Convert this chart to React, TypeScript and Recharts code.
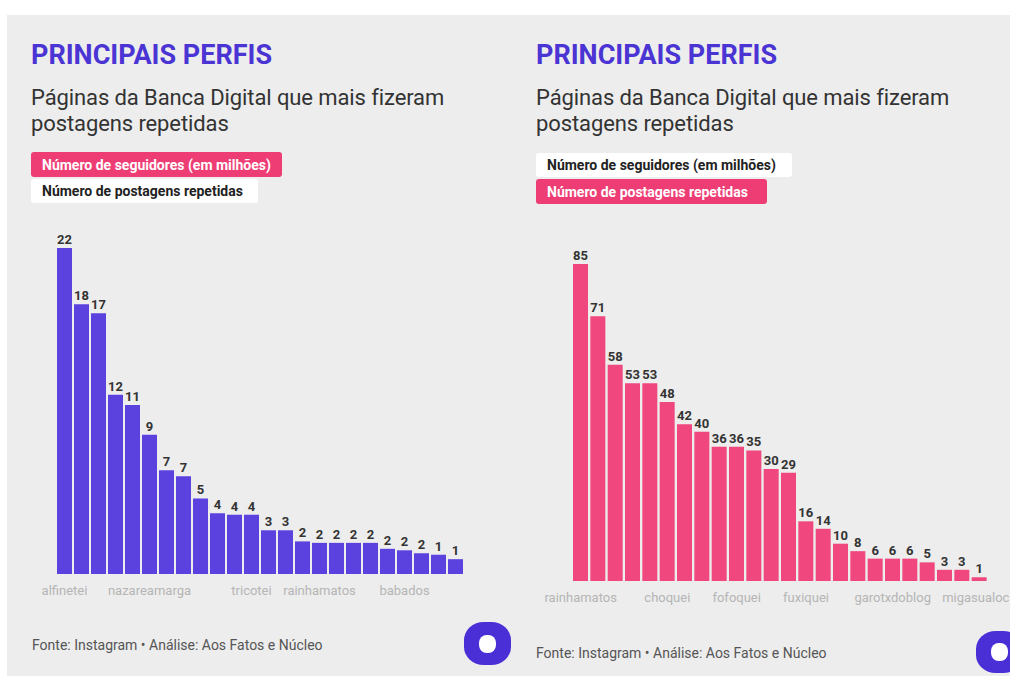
import React from "react";
import { BarChart, Bar, XAxis, YAxis, LabelList } from "recharts";

const leftNames = [
  "alfinetei", "", "", "", "", "nazareamarga", "", "", "", "", "", "tricotei",
  "", "", "", "rainhamatos", "", "", "", "", "babados", "", "", "",
];
const leftFollowers = [
  22, 18.2, 17.6, 12.1, 11.4, 9.4, 7.0, 6.6, 5.1, 4.1, 4.0, 4.0,
  2.95, 2.95, 2.2, 2.1, 2.1, 2.1, 2.1, 1.7, 1.6, 1.4, 1.3, 1.0,
];
const leftLabels = [
  22, 18, 17, 12, 11, 9, 7, 7, 5, 4, 4, 4, 3, 3, 2, 2, 2, 2, 2, 2, 2, 2, 1, 1,
];

// right panel: repeated posts
const rightNames = [
  "rainhamatos", "", "", "", "", "choquei", "", "", "", "fofoquei", "", "", "",
  "fuxiquei", "", "", "", "", "garotxdoblog", "", "", "", "", "migasualoca",
];
const rightPosts = [
  85, 71, 58, 53, 53, 48, 42, 40, 36, 36, 35, 30, 29, 16, 14, 10, 8, 6, 6, 6, 5, 3, 3, 1,
];

const leftData = leftFollowers.map((v, i) => ({ idx: i, value: v, label: leftLabels[i] }));
const rightData = rightPosts.map((v, i) => ({ idx: i, value: v, label: v }));

const PURPLE = "#5b41dd";
const PINK = "#ef477e";
const TITLE = "#4b34d4";
const FONT = "Roboto, 'Noto Sans', sans-serif";

const abs = (left: number, top: number): React.CSSProperties => ({
  position: "absolute",
  left,
  top,
});

function Header({ x, pinkFirst }: { x: number; pinkFirst: boolean }) {
  const box = (text: string, pink: boolean, top: number, width: number, h: number) => (
    <div
      style={{
        ...abs(x, top),
        width,
        height: h,
        background: pink ? "#ee3d75" : "#ffffff",
        color: pink ? "#ffffff" : "#222222",
        borderRadius: 3,
        fontWeight: 700,
        fontSize: 14,
        display: "flex",
        alignItems: "center",
        paddingLeft: 11,
        boxSizing: "border-box",
      }}
    >
      {text}
    </div>
  );
  return (
    <>
      <div
        style={{
          ...abs(x, 42),
          fontSize: 27,
          lineHeight: "27px",
          fontWeight: 700,
          color: TITLE,
        }}
      >
        PRINCIPAIS PERFIS
      </div>
      <div
        style={{
          ...abs(x, 85),
          fontSize: 22,
          lineHeight: "26px",
          color: "#333333",
          width: 470,
          letterSpacing: -0.1,
        }}
      >
        Páginas da Banca Digital que mais fizeram
        <br />
        postagens repetidas
      </div>
      {pinkFirst ? (
        <>
          {box("Número de seguidores (em milhões)", true, 152, 251, 25)}
          {box("Número de postagens repetidas", false, 179, 227, 24)}
        </>
      ) : (
        <>
          {box("Número de seguidores (em milhões)", false, 153, 256, 24)}
          {box("Número de postagens repetidas", true, 179, 231, 25)}
        </>
      )}
    </>
  );
}

function Footer({ x, y }: { x: number; y: number }) {
  return (
    <div
      style={{
        ...abs(x, y - 9),
        fontSize: 14,
        lineHeight: "18px",
        color: "#555555",
      }}
    >
      Fonte: Instagram • Análise: Aos Fatos e Núcleo
    </div>
  );
}

function Logo({ x, y, w, h }: { x: number; y: number; w: number; h: number }) {
  return (
    <div
      style={{
        ...abs(x, y),
        width: w,
        height: h,
        background: "#4a2ed6",
        borderRadius: "42%",
      }}
    >
      <div
        style={{
          position: "absolute",
          left: (w - 17) / 2,
          top: (h - 18) / 2,
          width: 17,
          height: 18,
          background: "#ffffff",
          borderRadius: "45%",
        }}
      />
    </div>
  );
}

const tickStyle = { fontSize: 13, fill: "#b5b5b5", fontFamily: FONT };
const labelStyle = { fontSize: 13, fontWeight: 700, fill: "#333333", fontFamily: FONT };

export default function App() {
  return (
    <div
      style={{
        position: "absolute",
        left: 0,
        top: 0,
        width: 1010,
        height: 679,
        overflow: "hidden",
        background: "#ffffff",
        fontFamily: FONT,
      }}
    >
      <div style={{ ...abs(7, 15), width: 1003, height: 661, background: "#ededed" }} />

      <Header x={31} pinkFirst={true} />
      <Header x={536} pinkFirst={false} />

      <div style={abs(16, 220)}>
        <BarChart
          width={458}
          height={390}
          data={leftData}
          margin={{ top: 28, right: 10, left: 40, bottom: 0 }}
          barCategoryGap={1}
        >
          <XAxis
            dataKey="idx"
            height={36}
            axisLine={false}
            tickLine={false}
            interval={0}
            tickMargin={6}
            tick={tickStyle}
            tickFormatter={(i: number) => leftNames[i]}
          />
          <YAxis hide domain={[0, 22]} />
          <Bar dataKey="value" fill={PURPLE} isAnimationActive={false}>
            <LabelList dataKey="label" position="top" offset={4} style={labelStyle} />
          </Bar>
        </BarChart>
      </div>

      <div style={abs(532, 236)}>
        <BarChart
          width={496}
          height={381}
          data={rightData}
          margin={{ top: 28, right: 40, left: 40, bottom: 0 }}
          barCategoryGap={1}
        >
          <XAxis
            dataKey="idx"
            height={36}
            axisLine={false}
            tickLine={false}
            interval={0}
            tickMargin={6}
            tick={tickStyle}
            tickFormatter={(i: number) => rightNames[i]}
          />
          <YAxis hide domain={[0, 85]} />
          <Bar dataKey="value" fill={PINK} isAnimationActive={false}>
            <LabelList dataKey="label" position="top" offset={4} style={labelStyle} />
          </Bar>
        </BarChart>
      </div>

      <Footer x={32} y={645} />
      <Footer x={536} y={653} />
      <Logo x={464} y={622} w={47} h={43} />
      <Logo x={976} y={631} w={47} h={42} />
    </div>
  );
}
